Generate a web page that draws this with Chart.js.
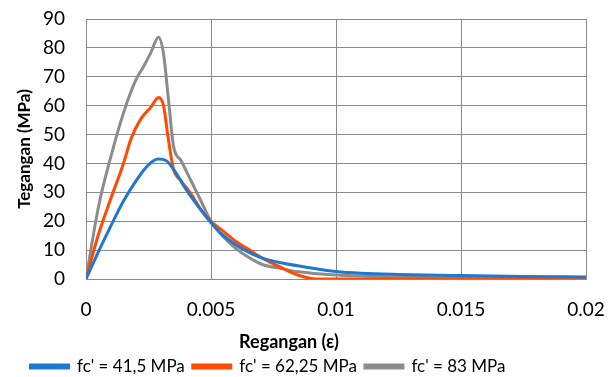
<!DOCTYPE html>
<html>
<head>
<meta charset="utf-8">
<script src="https://cdn.jsdelivr.net/npm/chart.js@4/dist/chart.umd.min.js"></script>
<style>
  html, body { margin:0; padding:0; background:#fff; }
  #wrap { width:611px; height:377px; position:relative; }
</style>
</head>
<body>
<div id="wrap"><canvas id="stressChart"></canvas></div>
<script>
// Stress-strain curves, values
const strain41 = [0,0.0005,0.001,0.0015,0.002,0.0025,0.0029,0.0032,0.0035,0.004,0.0045,0.005,0.0055,0.006,0.0065,0.007,0.0078,0.009,0.01,0.011,0.0125,0.015,0.0175,0.02];
const stress41 = [0,9.5,18.5,27,34,39.5,41.5,41,38,31,25,19.5,15,11.8,9.3,7.4,5.6,3.8,2.6,2,1.6,1.2,0.9,0.7];

const strain62 = [0,0.0005,0.001,0.0015,0.0018,0.0022,0.0026,0.0029,0.0031,0.0033,0.0035,0.0038,0.0042,0.0046,0.005,0.0055,0.006,0.0066,0.007,0.0078,0.0085,0.0092,0.01,0.012,0.02];
const stress62 = [0,15.5,28,40,48.5,55.5,59.5,62.8,60,48,38,34,29.5,24,20,16.5,13,9.7,7.5,4,1.3,0,0,0,0];

const strain83 = [0,0.0005,0.001,0.0015,0.002,0.0023,0.0026,0.0029,0.0031,0.0033,0.0035,0.0038,0.0042,0.0046,0.005,0.0055,0.006,0.0065,0.007,0.0078,0.0085,0.01,0.012,0.015,0.02];
const stress83 = [0,25,42.5,57.5,69,73.5,78.5,83.7,78,62,46,41,34,27,20,14.5,10.5,7.5,5.2,3.6,2.5,1.4,0.8,0.4,0.1];

const seriesNames = ["fc' = 41,5 MPa", "fc' = 62,25 MPa", "fc' = 83 MPa"];
const xTickLabels = ['0','0.005','0.01','0.015','0.02'];
const yTickLabels = ['0','10','20','30','40','50','60','70','80','90'];
const xTitle = 'Regangan (ε)';
const yTitle = 'Tegangan (MPa)';

const FONT = 'Lato, "Open Sans", sans-serif';
const GRID = '#8a8a8a';

function pts(xs, ys){ return xs.map((x,i)=>({x, y: ys[i]})); }

function ds(label, xs, ys, color){
  return {
    label,
    data: pts(xs, ys),
    showLine: true,
    borderColor: color,
    backgroundColor: color,
    borderWidth: 3,
    pointRadius: 0,
    cubicInterpolationMode: 'monotone'
  };
}

// x-axis title sits left of centre in the original, and so does the legend
const offCentre = {
  id: 'offCentre',
  afterLayout(chart){
    const lg = chart.legend;
    lg.left -= 25; lg.right -= 25;
    lg.top += 8; lg.bottom += 8;
  },
  afterDraw(chart){
    const ctx = chart.ctx;
    ctx.save();
    ctx.font = 'bold 18px ' + FONT;
    ctx.fillStyle = '#000';
    ctx.textAlign = 'center';
    ctx.textBaseline = 'middle';
    ctx.fillText(xTitle, 289, 342);
    ctx.restore();
  }
};

// invisible tick marks give the label gap without padding the chart area
const noTick = 'rgba(0,0,0,0)';

new Chart(document.getElementById('stressChart'), {
  type: 'scatter',
  data: {
    datasets: [
      ds(seriesNames[0], strain41, stress41, '#1f77d0'),
      ds(seriesNames[1], strain62, stress62, '#ff4a00'),
      ds(seriesNames[2], strain83, stress83, '#8c8c8c')
    ]
  },
  plugins: [offCentre],
  options: {
    responsive: true,
    maintainAspectRatio: false,
    animation: false,
    layout: { padding: { left: 0, right: 25, top: 19, bottom: 0 } },
    scales: {
      x: {
        type: 'linear',
        min: 0, max: 0.02,
        afterBuildTicks: s => { s.ticks = xTickLabels.map(v=>({value: Number(v)})); },
        ticks: {
          callback: (v,i) => xTickLabels[i],
          color: '#000',
          font: { family: FONT, size: 19 },
          padding: 0,
          maxRotation: 0
        },
        grid: { color: GRID, tickColor: noTick, tickLength: 19 },
        border: { color: GRID },
        afterFit: s => { s.height = 63; }
      },
      y: {
        min: 0, max: 90,
        afterBuildTicks: s => { s.ticks = yTickLabels.map(v=>({value: Number(v)})); },
        ticks: {
          callback: (v,i) => yTickLabels[i],
          color: '#000',
          font: { family: FONT, size: 19 },
          padding: 0
        },
        grid: { color: GRID, tickColor: noTick, tickLength: 21 },
        border: { color: GRID },
        title: {
          display: true,
          text: yTitle,
          color: '#000',
          font: { family: FONT, size: 17, weight: 'bold' },
          padding: { top: 14, bottom: 0 }
        },
        afterFit: s => { s.width = 86; }
      }
    },
    plugins: {
      legend: {
        position: 'bottom',
        labels: {
          boxWidth: 38,
          boxHeight: 3,
          color: '#000',
          font: { family: FONT, size: 17 },
          padding: 8
        }
      },
      tooltip: { enabled: false }
    }
  }
});
</script>
</body>
</html>
